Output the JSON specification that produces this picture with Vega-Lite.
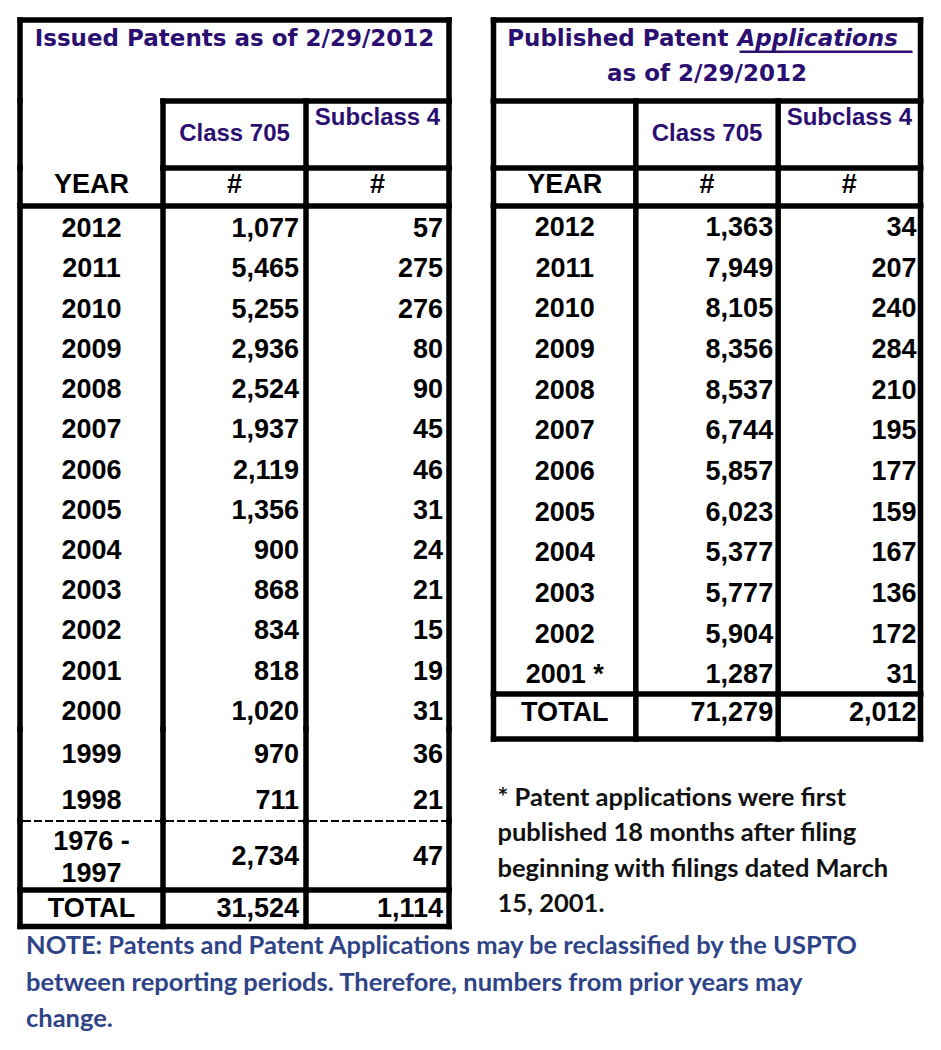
{
  "$schema": "https://vega.github.io/schema/vega-lite/v6.json",
  "background": "white",
  "padding": {"left": 16, "top": 16, "right": 10, "bottom": 10},
  "config": {"view": {"stroke": null}, "text": {"font": "Liberation Sans"}},
  "datasets": {
    "one": [{}],
    "cols": [{"col": "YEAR"}, {"col": "Class 705"}, {"col": "Subclass 4"}],
    "h2": [{"col": "YEAR", "label": "YEAR"}, {"col": "Class 705", "label": "#"}, {"col": "Subclass 4", "label": "#"}],
    "leftA": [
      {"year": "2012", "c705": 1077, "s4": 57},
      {"year": "2011", "c705": 5465, "s4": 275},
      {"year": "2010", "c705": 5255, "s4": 276},
      {"year": "2009", "c705": 2936, "s4": 80},
      {"year": "2008", "c705": 2524, "s4": 90},
      {"year": "2007", "c705": 1937, "s4": 45},
      {"year": "2006", "c705": 2119, "s4": 46},
      {"year": "2005", "c705": 1356, "s4": 31},
      {"year": "2004", "c705": 900, "s4": 24},
      {"year": "2003", "c705": 868, "s4": 21},
      {"year": "2002", "c705": 834, "s4": 15},
      {"year": "2001", "c705": 818, "s4": 19},
      {"year": "2000", "c705": 1020, "s4": 31}
    ],
    "leftB": [
      {"year": "1999", "c705": 970, "s4": 36},
      {"year": "1998", "c705": 711, "s4": 21}
    ],
    "leftOld": [{"year": "1976 -\n1997", "c705": 2734, "s4": 47}],
    "leftTotal": [{"year": "TOTAL", "c705": 31524, "s4": 1114}],
    "rightA": [
      {"year": "2012", "c705": 1363, "s4": 34},
      {"year": "2011", "c705": 7949, "s4": 207},
      {"year": "2010", "c705": 8105, "s4": 240},
      {"year": "2009", "c705": 8356, "s4": 284},
      {"year": "2008", "c705": 8537, "s4": 210},
      {"year": "2007", "c705": 6744, "s4": 195},
      {"year": "2006", "c705": 5857, "s4": 177},
      {"year": "2005", "c705": 6023, "s4": 159},
      {"year": "2004", "c705": 5377, "s4": 167},
      {"year": "2003", "c705": 5777, "s4": 136},
      {"year": "2002", "c705": 5904, "s4": 172},
      {"year": "2001 *", "c705": 1287, "s4": 31}
    ],
    "rightTotal": [{"year": "TOTAL", "c705": 71279, "s4": 2012}]
  },
  "title": {
    "text": ["NOTE: Patents and Patent Applications may be reclassified by the USPTO", "between reporting periods.  Therefore, numbers from prior years may", "change."],
    "orient": "bottom", "anchor": "start", "frame": "group", "baseline": "alphabetic",
    "offset": 24, "dx": 6, "font": "Lato", "fontSize": 25.5, "fontWeight": "bold",
    "color": "#2F4487", "lineHeight": 36.5
  },
  "spacing": 36.5,
  "bounds": "full",
  "hconcat": [
    {
      "spacing": 0,
      "bounds": "flush",
      "vconcat": [
        {
          "width": 429, "height": 80.5,
          "layer": [
            {"data": {"name": "one"}, "mark": {"type": "text", "text": "Issued Patents as of 2/29/2012", "font": "DejaVu Sans", "fontWeight": "bold", "fontSize": 23, "color": "#2B0F70", "align": "center", "baseline": "alphabetic", "dy": -14.5}, "encoding": {}},
            {"data": {"name": "one"}, "mark": {"type": "rule", "color": "black", "strokeWidth": 5.5, "strokeCap": "square"}, "encoding": {"y": {"datum": "t", "type": "nominal", "scale": {"type": "band", "domain": ["t"], "paddingInner": 0, "paddingOuter": 0}, "axis": null, "bandPosition": 0}}},
            {"data": {"name": "one"}, "mark": {"type": "rule", "color": "black", "strokeWidth": 5.5, "strokeCap": "square"}, "encoding": {"x": {"datum": "YEAR", "type": "nominal", "scale": {"type": "band", "domain": ["YEAR", "Class 705", "Subclass 4"], "paddingInner": 0, "paddingOuter": 0}, "axis": null, "bandPosition": 0}}},
            {"data": {"name": "one"}, "mark": {"type": "rule", "color": "black", "strokeWidth": 5.5, "strokeCap": "square"}, "encoding": {"x": {"datum": "Subclass 4", "type": "nominal", "scale": {"type": "band", "domain": ["YEAR", "Class 705", "Subclass 4"], "paddingInner": 0, "paddingOuter": 0}, "axis": null, "bandPosition": 1}}}
          ]
        },
        {
          "width": 429, "height": 66.5,
          "layer": [
            {"data": {"name": "one"}, "mark": {"type": "text", "text": "Class 705", "fontWeight": "bold", "fontSize": 24, "color": "#2B0F70", "align": "center", "baseline": "alphabetic", "dy": 6.25}, "encoding": {"x": {"datum": "Class 705", "type": "nominal", "scale": {"type": "band", "domain": ["YEAR", "Class 705", "Subclass 4"], "paddingInner": 0, "paddingOuter": 0}, "axis": null, "bandPosition": 0.5}}},
            {"data": {"name": "one"}, "mark": {"type": "text", "text": "Subclass 4", "fontWeight": "bold", "fontSize": 24, "color": "#2B0F70", "align": "center", "baseline": "alphabetic", "dy": -9.25}, "encoding": {"x": {"datum": "Subclass 4", "type": "nominal", "scale": {"type": "band", "domain": ["YEAR", "Class 705", "Subclass 4"], "paddingInner": 0, "paddingOuter": 0}, "axis": null, "bandPosition": 0.5}}},
            {"data": {"name": "one"}, "mark": {"type": "rule", "color": "black", "strokeWidth": 5.5, "strokeCap": "square"}, "encoding": {"y": {"datum": "h1", "type": "nominal", "scale": {"type": "band", "domain": ["h1"], "paddingInner": 0, "paddingOuter": 0}, "axis": null, "bandPosition": 0}, "x": {"datum": "Class 705", "type": "nominal", "scale": {"type": "band", "domain": ["YEAR", "Class 705", "Subclass 4"], "paddingInner": 0, "paddingOuter": 0}, "axis": null, "bandPosition": 0}, "x2": {"datum": "Subclass 4", "bandPosition": 1}}},
            {"data": {"name": "cols"}, "mark": {"type": "rule", "color": "black", "strokeWidth": 5.5, "strokeCap": "square"}, "encoding": {"x": {"field": "col", "type": "nominal", "scale": {"type": "band", "domain": ["YEAR", "Class 705", "Subclass 4"], "paddingInner": 0, "paddingOuter": 0}, "axis": null, "bandPosition": 0}}},
            {"data": {"name": "one"}, "mark": {"type": "rule", "color": "black", "strokeWidth": 5.5, "strokeCap": "square"}, "encoding": {"x": {"datum": "Subclass 4", "type": "nominal", "scale": {"type": "band", "domain": ["YEAR", "Class 705", "Subclass 4"], "paddingInner": 0, "paddingOuter": 0}, "axis": null, "bandPosition": 1}}}
          ]
        },
        {
          "width": 429, "height": 37.5,
          "layer": [
            {"data": {"name": "h2"}, "mark": {"type": "text", "fontWeight": "bold", "fontSize": 27, "color": "black", "align": "center", "baseline": "alphabetic", "dy": 6.5}, "encoding": {"x": {"field": "col", "type": "nominal", "scale": {"type": "band", "domain": ["YEAR", "Class 705", "Subclass 4"], "paddingInner": 0, "paddingOuter": 0}, "axis": null, "bandPosition": 0.5}, "text": {"field": "label"}}},
            {"data": {"name": "one"}, "mark": {"type": "rule", "color": "black", "strokeWidth": 5.5, "strokeCap": "square"}, "encoding": {"y": {"datum": "h2", "type": "nominal", "scale": {"type": "band", "domain": ["h2"], "paddingInner": 0, "paddingOuter": 0}, "axis": null, "bandPosition": 0}, "x": {"datum": "Class 705", "type": "nominal", "scale": {"type": "band", "domain": ["YEAR", "Class 705", "Subclass 4"], "paddingInner": 0, "paddingOuter": 0}, "axis": null, "bandPosition": 0}, "x2": {"datum": "Subclass 4", "bandPosition": 1}}},
            {"data": {"name": "cols"}, "mark": {"type": "rule", "color": "black", "strokeWidth": 5.5, "strokeCap": "square"}, "encoding": {"x": {"field": "col", "type": "nominal", "scale": {"type": "band", "domain": ["YEAR", "Class 705", "Subclass 4"], "paddingInner": 0, "paddingOuter": 0}, "axis": null, "bandPosition": 0}}},
            {"data": {"name": "one"}, "mark": {"type": "rule", "color": "black", "strokeWidth": 5.5, "strokeCap": "square"}, "encoding": {"x": {"datum": "Subclass 4", "type": "nominal", "scale": {"type": "band", "domain": ["YEAR", "Class 705", "Subclass 4"], "paddingInner": 0, "paddingOuter": 0}, "axis": null, "bandPosition": 1}}}
          ]
        },
        {
          "width": 429, "height": 523,
          "layer": [
            {"data": {"name": "leftA"}, "mark": {"type": "text", "fontWeight": "bold", "fontSize": 27, "color": "black", "align": "center", "baseline": "alphabetic", "dy": 11}, "encoding": {"x": {"datum": "YEAR", "type": "nominal", "scale": {"type": "band", "domain": ["YEAR", "Class 705", "Subclass 4"], "paddingInner": 0, "paddingOuter": 0}, "axis": null, "bandPosition": 0.5}, "y": {"field": "year", "type": "nominal", "sort": null, "scale": {"type": "band", "domain": ["2012", "2011", "2010", "2009", "2008", "2007", "2006", "2005", "2004", "2003", "2002", "2001", "2000"], "paddingInner": 0, "paddingOuter": 0}, "axis": null}, "text": {"field": "year"}}},
            {"data": {"name": "leftA"}, "mark": {"type": "text", "fontWeight": "bold", "fontSize": 27, "color": "black", "align": "right", "baseline": "alphabetic", "dy": 11, "dx": -7}, "encoding": {"x": {"datum": "Class 705", "type": "nominal", "scale": {"type": "band", "domain": ["YEAR", "Class 705", "Subclass 4"], "paddingInner": 0, "paddingOuter": 0}, "axis": null, "bandPosition": 1}, "y": {"field": "year", "type": "nominal", "sort": null, "scale": {"type": "band", "domain": ["2012", "2011", "2010", "2009", "2008", "2007", "2006", "2005", "2004", "2003", "2002", "2001", "2000"], "paddingInner": 0, "paddingOuter": 0}, "axis": null}, "text": {"field": "c705", "type": "quantitative", "format": ","}}},
            {"data": {"name": "leftA"}, "mark": {"type": "text", "fontWeight": "bold", "fontSize": 27, "color": "black", "align": "right", "baseline": "alphabetic", "dy": 11, "dx": -6}, "encoding": {"x": {"datum": "Subclass 4", "type": "nominal", "scale": {"type": "band", "domain": ["YEAR", "Class 705", "Subclass 4"], "paddingInner": 0, "paddingOuter": 0}, "axis": null, "bandPosition": 1}, "y": {"field": "year", "type": "nominal", "sort": null, "scale": {"type": "band", "domain": ["2012", "2011", "2010", "2009", "2008", "2007", "2006", "2005", "2004", "2003", "2002", "2001", "2000"], "paddingInner": 0, "paddingOuter": 0}, "axis": null}, "text": {"field": "s4", "type": "quantitative", "format": ","}}},
            {"data": {"name": "one"}, "mark": {"type": "rule", "color": "black", "strokeWidth": 5.5, "strokeCap": "square"}, "encoding": {"y": {"datum": "2012", "type": "nominal", "scale": {"type": "band", "domain": ["2012", "2011", "2010", "2009", "2008", "2007", "2006", "2005", "2004", "2003", "2002", "2001", "2000"], "paddingInner": 0, "paddingOuter": 0}, "axis": null, "bandPosition": 0}}},
            {"data": {"name": "cols"}, "mark": {"type": "rule", "color": "black", "strokeWidth": 5.5, "strokeCap": "square"}, "encoding": {"x": {"field": "col", "type": "nominal", "scale": {"type": "band", "domain": ["YEAR", "Class 705", "Subclass 4"], "paddingInner": 0, "paddingOuter": 0}, "axis": null, "bandPosition": 0}}},
            {"data": {"name": "one"}, "mark": {"type": "rule", "color": "black", "strokeWidth": 5.5, "strokeCap": "square"}, "encoding": {"x": {"datum": "Subclass 4", "type": "nominal", "scale": {"type": "band", "domain": ["YEAR", "Class 705", "Subclass 4"], "paddingInner": 0, "paddingOuter": 0}, "axis": null, "bandPosition": 1}}}
          ]
        },
        {
          "width": 429, "height": 92,
          "layer": [
            {"data": {"name": "leftB"}, "mark": {"type": "text", "fontWeight": "bold", "fontSize": 27, "color": "black", "align": "center", "baseline": "alphabetic", "dy": 11}, "encoding": {"x": {"datum": "YEAR", "type": "nominal", "scale": {"type": "band", "domain": ["YEAR", "Class 705", "Subclass 4"], "paddingInner": 0, "paddingOuter": 0}, "axis": null, "bandPosition": 0.5}, "y": {"field": "year", "type": "nominal", "sort": null, "scale": {"type": "band", "domain": ["1999", "1998"], "paddingInner": 0, "paddingOuter": 0}, "axis": null}, "text": {"field": "year"}}},
            {"data": {"name": "leftB"}, "mark": {"type": "text", "fontWeight": "bold", "fontSize": 27, "color": "black", "align": "right", "baseline": "alphabetic", "dy": 11, "dx": -7}, "encoding": {"x": {"datum": "Class 705", "type": "nominal", "scale": {"type": "band", "domain": ["YEAR", "Class 705", "Subclass 4"], "paddingInner": 0, "paddingOuter": 0}, "axis": null, "bandPosition": 1}, "y": {"field": "year", "type": "nominal", "sort": null, "scale": {"type": "band", "domain": ["1999", "1998"], "paddingInner": 0, "paddingOuter": 0}, "axis": null}, "text": {"field": "c705", "type": "quantitative", "format": ","}}},
            {"data": {"name": "leftB"}, "mark": {"type": "text", "fontWeight": "bold", "fontSize": 27, "color": "black", "align": "right", "baseline": "alphabetic", "dy": 11, "dx": -6}, "encoding": {"x": {"datum": "Subclass 4", "type": "nominal", "scale": {"type": "band", "domain": ["YEAR", "Class 705", "Subclass 4"], "paddingInner": 0, "paddingOuter": 0}, "axis": null, "bandPosition": 1}, "y": {"field": "year", "type": "nominal", "sort": null, "scale": {"type": "band", "domain": ["1999", "1998"], "paddingInner": 0, "paddingOuter": 0}, "axis": null}, "text": {"field": "s4", "type": "quantitative", "format": ","}}},
            {"data": {"name": "one"}, "mark": {"type": "rule", "color": "black", "strokeWidth": 2.2, "strokeDash": [8, 3]}, "encoding": {"y": {"datum": "1998", "type": "nominal", "scale": {"type": "band", "domain": ["1999", "1998"], "paddingInner": 0, "paddingOuter": 0}, "axis": null, "bandPosition": 1}}},
            {"data": {"name": "cols"}, "mark": {"type": "rule", "color": "black", "strokeWidth": 5.5, "strokeCap": "square"}, "encoding": {"x": {"field": "col", "type": "nominal", "scale": {"type": "band", "domain": ["YEAR", "Class 705", "Subclass 4"], "paddingInner": 0, "paddingOuter": 0}, "axis": null, "bandPosition": 0}}},
            {"data": {"name": "one"}, "mark": {"type": "rule", "color": "black", "strokeWidth": 5.5, "strokeCap": "square"}, "encoding": {"x": {"datum": "Subclass 4", "type": "nominal", "scale": {"type": "band", "domain": ["YEAR", "Class 705", "Subclass 4"], "paddingInner": 0, "paddingOuter": 0}, "axis": null, "bandPosition": 1}}}
          ]
        },
        {
          "width": 429, "height": 68.5,
          "layer": [
            {"data": {"name": "leftOld"}, "mark": {"type": "text", "fontWeight": "bold", "fontSize": 27, "color": "black", "align": "center", "baseline": "alphabetic", "dy": -5, "lineBreak": "\n", "lineHeight": 32}, "encoding": {"x": {"datum": "YEAR", "type": "nominal", "scale": {"type": "band", "domain": ["YEAR", "Class 705", "Subclass 4"], "paddingInner": 0, "paddingOuter": 0}, "axis": null, "bandPosition": 0.5}, "text": {"field": "year"}}},
            {"data": {"name": "leftOld"}, "mark": {"type": "text", "fontWeight": "bold", "fontSize": 27, "color": "black", "align": "right", "baseline": "alphabetic", "dy": 10, "dx": -7}, "encoding": {"x": {"datum": "Class 705", "type": "nominal", "scale": {"type": "band", "domain": ["YEAR", "Class 705", "Subclass 4"], "paddingInner": 0, "paddingOuter": 0}, "axis": null, "bandPosition": 1}, "text": {"field": "c705", "type": "quantitative", "format": ","}}},
            {"data": {"name": "leftOld"}, "mark": {"type": "text", "fontWeight": "bold", "fontSize": 27, "color": "black", "align": "right", "baseline": "alphabetic", "dy": 10, "dx": -6}, "encoding": {"x": {"datum": "Subclass 4", "type": "nominal", "scale": {"type": "band", "domain": ["YEAR", "Class 705", "Subclass 4"], "paddingInner": 0, "paddingOuter": 0}, "axis": null, "bandPosition": 1}, "text": {"field": "s4", "type": "quantitative", "format": ","}}},
            {"data": {"name": "cols"}, "mark": {"type": "rule", "color": "black", "strokeWidth": 5.5, "strokeCap": "square"}, "encoding": {"x": {"field": "col", "type": "nominal", "scale": {"type": "band", "domain": ["YEAR", "Class 705", "Subclass 4"], "paddingInner": 0, "paddingOuter": 0}, "axis": null, "bandPosition": 0}}},
            {"data": {"name": "one"}, "mark": {"type": "rule", "color": "black", "strokeWidth": 5.5, "strokeCap": "square"}, "encoding": {"x": {"datum": "Subclass 4", "type": "nominal", "scale": {"type": "band", "domain": ["YEAR", "Class 705", "Subclass 4"], "paddingInner": 0, "paddingOuter": 0}, "axis": null, "bandPosition": 1}}}
          ]
        },
        {
          "width": 429, "height": 36.5,
          "layer": [
            {"data": {"name": "leftTotal"}, "mark": {"type": "text", "fontWeight": "bold", "fontSize": 27, "color": "black", "align": "center", "baseline": "alphabetic", "dy": 9}, "encoding": {"x": {"datum": "YEAR", "type": "nominal", "scale": {"type": "band", "domain": ["YEAR", "Class 705", "Subclass 4"], "paddingInner": 0, "paddingOuter": 0}, "axis": null, "bandPosition": 0.5}, "text": {"field": "year"}}},
            {"data": {"name": "leftTotal"}, "mark": {"type": "text", "fontWeight": "bold", "fontSize": 27, "color": "black", "align": "right", "baseline": "alphabetic", "dy": 9, "dx": -7}, "encoding": {"x": {"datum": "Class 705", "type": "nominal", "scale": {"type": "band", "domain": ["YEAR", "Class 705", "Subclass 4"], "paddingInner": 0, "paddingOuter": 0}, "axis": null, "bandPosition": 1}, "text": {"field": "c705", "type": "quantitative", "format": ","}}},
            {"data": {"name": "leftTotal"}, "mark": {"type": "text", "fontWeight": "bold", "fontSize": 27, "color": "black", "align": "right", "baseline": "alphabetic", "dy": 9, "dx": -6}, "encoding": {"x": {"datum": "Subclass 4", "type": "nominal", "scale": {"type": "band", "domain": ["YEAR", "Class 705", "Subclass 4"], "paddingInner": 0, "paddingOuter": 0}, "axis": null, "bandPosition": 1}, "text": {"field": "s4", "type": "quantitative", "format": ","}}},
            {"data": {"name": "one"}, "mark": {"type": "rule", "color": "black", "strokeWidth": 5.5, "strokeCap": "square"}, "encoding": {"y": {"datum": "TOTAL", "type": "nominal", "scale": {"type": "band", "domain": ["TOTAL"], "paddingInner": 0, "paddingOuter": 0}, "axis": null, "bandPosition": 0}}},
            {"data": {"name": "one"}, "mark": {"type": "rule", "color": "black", "strokeWidth": 5.5, "strokeCap": "square"}, "encoding": {"y": {"datum": "TOTAL", "type": "nominal", "scale": {"type": "band", "domain": ["TOTAL"], "paddingInner": 0, "paddingOuter": 0}, "axis": null, "bandPosition": 1}}},
            {"data": {"name": "cols"}, "mark": {"type": "rule", "color": "black", "strokeWidth": 5.5, "strokeCap": "square"}, "encoding": {"x": {"field": "col", "type": "nominal", "scale": {"type": "band", "domain": ["YEAR", "Class 705", "Subclass 4"], "paddingInner": 0, "paddingOuter": 0}, "axis": null, "bandPosition": 0}}},
            {"data": {"name": "one"}, "mark": {"type": "rule", "color": "black", "strokeWidth": 5.5, "strokeCap": "square"}, "encoding": {"x": {"datum": "Subclass 4", "type": "nominal", "scale": {"type": "band", "domain": ["YEAR", "Class 705", "Subclass 4"], "paddingInner": 0, "paddingOuter": 0}, "axis": null, "bandPosition": 1}}}
          ]
        }
      ]
    },
    {
      "spacing": 0,
      "bounds": "flush",
      "vconcat": [
        {
          "width": 427, "height": 80.5,
          "layer": [
            {"data": {"name": "one"}, "mark": {"type": "text", "text": "Published Patent", "font": "DejaVu Sans", "fontWeight": "bold", "fontSize": 23, "color": "#2B0F70", "align": "right", "baseline": "alphabetic", "dy": -14.5, "dx": 21.5}, "encoding": {}},
            {"data": {"name": "one"}, "mark": {"type": "text", "text": "Applications", "font": "DejaVu Sans", "fontWeight": "bold", "fontStyle": "italic", "fontSize": 23, "color": "#2B0F70", "align": "left", "baseline": "alphabetic", "dy": -14.5, "dx": 30.5}, "encoding": {}},
            {"data": {"name": "one"}, "mark": {"type": "text", "text": "as of 2/29/2012", "font": "DejaVu Sans", "fontWeight": "bold", "fontSize": 23, "color": "#2B0F70", "align": "center", "baseline": "alphabetic", "dy": 20.5}, "encoding": {}},
            {"data": {"name": "one"}, "mark": {"type": "rule", "color": "#2B0F70", "strokeWidth": 2.5}, "encoding": {"y": {"datum": "t", "type": "nominal", "scale": {"type": "band", "domain": ["t"], "paddingInner": 0, "paddingOuter": 0}, "axis": null, "bandPosition": 0.395}, "x": {"datum": "Class 705", "type": "nominal", "scale": {"type": "band", "domain": ["YEAR", "Class 705", "Subclass 4"], "paddingInner": 0, "paddingOuter": 0}, "axis": null, "bandPosition": 0.729}, "x2": {"datum": "Subclass 4", "bandPosition": 0.944}}},
            {"data": {"name": "one"}, "mark": {"type": "rule", "color": "black", "strokeWidth": 5.5, "strokeCap": "square"}, "encoding": {"y": {"datum": "t", "type": "nominal", "scale": {"type": "band", "domain": ["t"], "paddingInner": 0, "paddingOuter": 0}, "axis": null, "bandPosition": 0}}},
            {"data": {"name": "one"}, "mark": {"type": "rule", "color": "black", "strokeWidth": 5.5, "strokeCap": "square"}, "encoding": {"x": {"datum": "YEAR", "type": "nominal", "scale": {"type": "band", "domain": ["YEAR", "Class 705", "Subclass 4"], "paddingInner": 0, "paddingOuter": 0}, "axis": null, "bandPosition": 0}}},
            {"data": {"name": "one"}, "mark": {"type": "rule", "color": "black", "strokeWidth": 5.5, "strokeCap": "square"}, "encoding": {"x": {"datum": "Subclass 4", "type": "nominal", "scale": {"type": "band", "domain": ["YEAR", "Class 705", "Subclass 4"], "paddingInner": 0, "paddingOuter": 0}, "axis": null, "bandPosition": 1}}}
          ]
        },
        {
          "width": 427, "height": 66.5,
          "layer": [
            {"data": {"name": "one"}, "mark": {"type": "text", "text": "Class 705", "fontWeight": "bold", "fontSize": 24, "color": "#2B0F70", "align": "center", "baseline": "alphabetic", "dy": 6.25}, "encoding": {"x": {"datum": "Class 705", "type": "nominal", "scale": {"type": "band", "domain": ["YEAR", "Class 705", "Subclass 4"], "paddingInner": 0, "paddingOuter": 0}, "axis": null, "bandPosition": 0.5}}},
            {"data": {"name": "one"}, "mark": {"type": "text", "text": "Subclass 4", "fontWeight": "bold", "fontSize": 24, "color": "#2B0F70", "align": "center", "baseline": "alphabetic", "dy": -9.25}, "encoding": {"x": {"datum": "Subclass 4", "type": "nominal", "scale": {"type": "band", "domain": ["YEAR", "Class 705", "Subclass 4"], "paddingInner": 0, "paddingOuter": 0}, "axis": null, "bandPosition": 0.5}}},
            {"data": {"name": "one"}, "mark": {"type": "rule", "color": "black", "strokeWidth": 5.5, "strokeCap": "square"}, "encoding": {"y": {"datum": "h1", "type": "nominal", "scale": {"type": "band", "domain": ["h1"], "paddingInner": 0, "paddingOuter": 0}, "axis": null, "bandPosition": 0}}},
            {"data": {"name": "cols"}, "mark": {"type": "rule", "color": "black", "strokeWidth": 5.5, "strokeCap": "square"}, "encoding": {"x": {"field": "col", "type": "nominal", "scale": {"type": "band", "domain": ["YEAR", "Class 705", "Subclass 4"], "paddingInner": 0, "paddingOuter": 0}, "axis": null, "bandPosition": 0}}},
            {"data": {"name": "one"}, "mark": {"type": "rule", "color": "black", "strokeWidth": 5.5, "strokeCap": "square"}, "encoding": {"x": {"datum": "Subclass 4", "type": "nominal", "scale": {"type": "band", "domain": ["YEAR", "Class 705", "Subclass 4"], "paddingInner": 0, "paddingOuter": 0}, "axis": null, "bandPosition": 1}}}
          ]
        },
        {
          "width": 427, "height": 37.5,
          "layer": [
            {"data": {"name": "h2"}, "mark": {"type": "text", "fontWeight": "bold", "fontSize": 27, "color": "black", "align": "center", "baseline": "alphabetic", "dy": 6.5}, "encoding": {"x": {"field": "col", "type": "nominal", "scale": {"type": "band", "domain": ["YEAR", "Class 705", "Subclass 4"], "paddingInner": 0, "paddingOuter": 0}, "axis": null, "bandPosition": 0.5}, "text": {"field": "label"}}},
            {"data": {"name": "one"}, "mark": {"type": "rule", "color": "black", "strokeWidth": 5.5, "strokeCap": "square"}, "encoding": {"y": {"datum": "h2", "type": "nominal", "scale": {"type": "band", "domain": ["h2"], "paddingInner": 0, "paddingOuter": 0}, "axis": null, "bandPosition": 0}}},
            {"data": {"name": "cols"}, "mark": {"type": "rule", "color": "black", "strokeWidth": 5.5, "strokeCap": "square"}, "encoding": {"x": {"field": "col", "type": "nominal", "scale": {"type": "band", "domain": ["YEAR", "Class 705", "Subclass 4"], "paddingInner": 0, "paddingOuter": 0}, "axis": null, "bandPosition": 0}}},
            {"data": {"name": "one"}, "mark": {"type": "rule", "color": "black", "strokeWidth": 5.5, "strokeCap": "square"}, "encoding": {"x": {"datum": "Subclass 4", "type": "nominal", "scale": {"type": "band", "domain": ["YEAR", "Class 705", "Subclass 4"], "paddingInner": 0, "paddingOuter": 0}, "axis": null, "bandPosition": 1}}}
          ]
        },
        {
          "width": 427, "height": 488,
          "layer": [
            {"data": {"name": "rightA"}, "mark": {"type": "text", "fontWeight": "bold", "fontSize": 27, "color": "black", "align": "center", "baseline": "alphabetic", "dy": 9.5}, "encoding": {"x": {"datum": "YEAR", "type": "nominal", "scale": {"type": "band", "domain": ["YEAR", "Class 705", "Subclass 4"], "paddingInner": 0, "paddingOuter": 0}, "axis": null, "bandPosition": 0.5}, "y": {"field": "year", "type": "nominal", "sort": null, "scale": {"type": "band", "domain": ["2012", "2011", "2010", "2009", "2008", "2007", "2006", "2005", "2004", "2003", "2002", "2001 *"], "paddingInner": 0, "paddingOuter": 0}, "axis": null}, "text": {"field": "year"}}},
            {"data": {"name": "rightA"}, "mark": {"type": "text", "fontWeight": "bold", "fontSize": 27, "color": "black", "align": "right", "baseline": "alphabetic", "dy": 9.5, "dx": -5}, "encoding": {"x": {"datum": "Class 705", "type": "nominal", "scale": {"type": "band", "domain": ["YEAR", "Class 705", "Subclass 4"], "paddingInner": 0, "paddingOuter": 0}, "axis": null, "bandPosition": 1}, "y": {"field": "year", "type": "nominal", "sort": null, "scale": {"type": "band", "domain": ["2012", "2011", "2010", "2009", "2008", "2007", "2006", "2005", "2004", "2003", "2002", "2001 *"], "paddingInner": 0, "paddingOuter": 0}, "axis": null}, "text": {"field": "c705", "type": "quantitative", "format": ","}}},
            {"data": {"name": "rightA"}, "mark": {"type": "text", "fontWeight": "bold", "fontSize": 27, "color": "black", "align": "right", "baseline": "alphabetic", "dy": 9.5, "dx": -4}, "encoding": {"x": {"datum": "Subclass 4", "type": "nominal", "scale": {"type": "band", "domain": ["YEAR", "Class 705", "Subclass 4"], "paddingInner": 0, "paddingOuter": 0}, "axis": null, "bandPosition": 1}, "y": {"field": "year", "type": "nominal", "sort": null, "scale": {"type": "band", "domain": ["2012", "2011", "2010", "2009", "2008", "2007", "2006", "2005", "2004", "2003", "2002", "2001 *"], "paddingInner": 0, "paddingOuter": 0}, "axis": null}, "text": {"field": "s4", "type": "quantitative", "format": ","}}},
            {"data": {"name": "one"}, "mark": {"type": "rule", "color": "black", "strokeWidth": 5.5, "strokeCap": "square"}, "encoding": {"y": {"datum": "2012", "type": "nominal", "scale": {"type": "band", "domain": ["2012", "2011", "2010", "2009", "2008", "2007", "2006", "2005", "2004", "2003", "2002", "2001 *"], "paddingInner": 0, "paddingOuter": 0}, "axis": null, "bandPosition": 0}}},
            {"data": {"name": "cols"}, "mark": {"type": "rule", "color": "black", "strokeWidth": 5.5, "strokeCap": "square"}, "encoding": {"x": {"field": "col", "type": "nominal", "scale": {"type": "band", "domain": ["YEAR", "Class 705", "Subclass 4"], "paddingInner": 0, "paddingOuter": 0}, "axis": null, "bandPosition": 0}}},
            {"data": {"name": "one"}, "mark": {"type": "rule", "color": "black", "strokeWidth": 5.5, "strokeCap": "square"}, "encoding": {"x": {"datum": "Subclass 4", "type": "nominal", "scale": {"type": "band", "domain": ["YEAR", "Class 705", "Subclass 4"], "paddingInner": 0, "paddingOuter": 0}, "axis": null, "bandPosition": 1}}}
          ]
        },
        {
          "width": 427, "height": 45,
          "title": {
            "text": ["* Patent applications were first", "published 18 months after filing", "beginning with filings dated March", "15, 2001."],
            "orient": "bottom", "anchor": "start", "frame": "group", "baseline": "alphabetic",
            "offset": 63, "dx": 4, "font": "Lato", "fontSize": 25.5, "fontWeight": "bold",
            "color": "#111111", "lineHeight": 35.5
          },
          "layer": [
            {"data": {"name": "rightTotal"}, "mark": {"type": "text", "fontWeight": "bold", "fontSize": 27, "color": "black", "align": "center", "baseline": "alphabetic", "dy": 4}, "encoding": {"x": {"datum": "YEAR", "type": "nominal", "scale": {"type": "band", "domain": ["YEAR", "Class 705", "Subclass 4"], "paddingInner": 0, "paddingOuter": 0}, "axis": null, "bandPosition": 0.5}, "text": {"field": "year"}}},
            {"data": {"name": "rightTotal"}, "mark": {"type": "text", "fontWeight": "bold", "fontSize": 27, "color": "black", "align": "right", "baseline": "alphabetic", "dy": 4, "dx": -5}, "encoding": {"x": {"datum": "Class 705", "type": "nominal", "scale": {"type": "band", "domain": ["YEAR", "Class 705", "Subclass 4"], "paddingInner": 0, "paddingOuter": 0}, "axis": null, "bandPosition": 1}, "text": {"field": "c705", "type": "quantitative", "format": ","}}},
            {"data": {"name": "rightTotal"}, "mark": {"type": "text", "fontWeight": "bold", "fontSize": 27, "color": "black", "align": "right", "baseline": "alphabetic", "dy": 4, "dx": -4}, "encoding": {"x": {"datum": "Subclass 4", "type": "nominal", "scale": {"type": "band", "domain": ["YEAR", "Class 705", "Subclass 4"], "paddingInner": 0, "paddingOuter": 0}, "axis": null, "bandPosition": 1}, "text": {"field": "s4", "type": "quantitative", "format": ","}}},
            {"data": {"name": "one"}, "mark": {"type": "rule", "color": "black", "strokeWidth": 5.5, "strokeCap": "square"}, "encoding": {"y": {"datum": "TOTAL", "type": "nominal", "scale": {"type": "band", "domain": ["TOTAL"], "paddingInner": 0, "paddingOuter": 0}, "axis": null, "bandPosition": 0}}},
            {"data": {"name": "one"}, "mark": {"type": "rule", "color": "black", "strokeWidth": 5.5, "strokeCap": "square"}, "encoding": {"y": {"datum": "TOTAL", "type": "nominal", "scale": {"type": "band", "domain": ["TOTAL"], "paddingInner": 0, "paddingOuter": 0}, "axis": null, "bandPosition": 1}}},
            {"data": {"name": "cols"}, "mark": {"type": "rule", "color": "black", "strokeWidth": 5.5, "strokeCap": "square"}, "encoding": {"x": {"field": "col", "type": "nominal", "scale": {"type": "band", "domain": ["YEAR", "Class 705", "Subclass 4"], "paddingInner": 0, "paddingOuter": 0}, "axis": null, "bandPosition": 0}}},
            {"data": {"name": "one"}, "mark": {"type": "rule", "color": "black", "strokeWidth": 5.5, "strokeCap": "square"}, "encoding": {"x": {"datum": "Subclass 4", "type": "nominal", "scale": {"type": "band", "domain": ["YEAR", "Class 705", "Subclass 4"], "paddingInner": 0, "paddingOuter": 0}, "axis": null, "bandPosition": 1}}}
          ]
        }
      ]
    }
  ]
}
